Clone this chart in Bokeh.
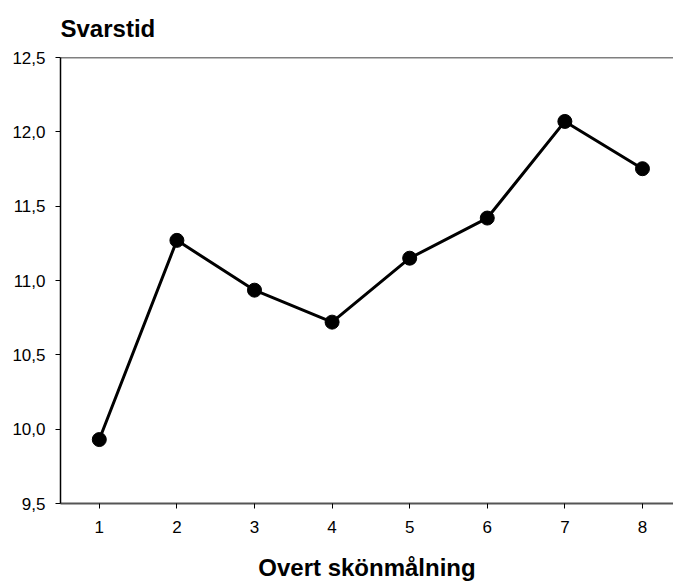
from bokeh.plotting import figure
from bokeh.models import FixedTicker, CustomJSTickFormatter, Span, Range1d
from bokeh.embed import file_html
from bokeh.resources import INLINE

# data
x_vals = [1, 2, 3, 4, 5, 6, 7, 8]
svarstid = [9.93, 11.27, 10.935, 10.72, 11.15, 11.42, 12.07, 11.752]
y_ticks = [9.5, 10.0, 10.5, 11.0, 11.5, 12.0, 12.5]
title_text = "Svarstid"
xlabel_text = "Overt skönmålning"

FONT = "Liberation Sans"

p = figure(width=673, height=583, output_backend="svg", toolbar_location=None,
           x_range=Range1d(0.5, 8.4), y_range=Range1d(9.5, 12.5),
           min_border_left=60, min_border_right=0, min_border_top=57, min_border_bottom=80)
p.outline_line_color = None
p.xgrid.visible = False
p.ygrid.visible = False

p.title.text = title_text
p.title.align = "left"
p.title.vertical_align = "top"
p.title.text_font = FONT
p.title.text_font_size = "24px"
p.title.text_font_style = "bold"
p.title.text_color = "black"
p.title.standoff = 28

p.line(x_vals, svarstid, line_width=3, line_color="black")
p.scatter(x_vals, svarstid, size=14, fill_color="black", line_color="black")

# x axis
xa = p.xaxis[0]
xa.ticker = FixedTicker(ticks=x_vals)
xa.axis_label = xlabel_text
xa.axis_label_text_font = FONT
xa.axis_label_text_font_size = "24px"
xa.axis_label_text_font_style = "bold"
xa.axis_label_text_color = "black"
xa.axis_label_standoff = 18
xa.major_label_text_font = FONT
xa.major_label_text_font_size = "17px"
xa.major_label_text_color = "black"
xa.major_label_standoff = 12
xa.major_tick_in = 0
xa.major_tick_out = 5
xa.major_tick_line_color = "black"
xa.minor_tick_line_color = None
xa.axis_line_color = "#555555"
xa.axis_line_width = 2

# y axis
ya = p.yaxis[0]
ya.ticker = FixedTicker(ticks=y_ticks)
ya.formatter = CustomJSTickFormatter(code="return tick.toFixed(1).replace('.', ',');")
ya.major_label_text_font = FONT
ya.major_label_text_font_size = "17px"
ya.major_label_text_color = "black"
ya.major_label_standoff = 10
ya.major_tick_in = 0
ya.major_tick_out = 5
ya.major_tick_line_color = "black"
ya.minor_tick_line_color = None
ya.axis_line_color = "black"
ya.axis_line_width = 1.5

# top border line
p.add_layout(Span(location=y_ticks[-1], dimension="width", line_color="black", line_width=1.5))

open("out.html", "w").write(file_html(p, INLINE))
